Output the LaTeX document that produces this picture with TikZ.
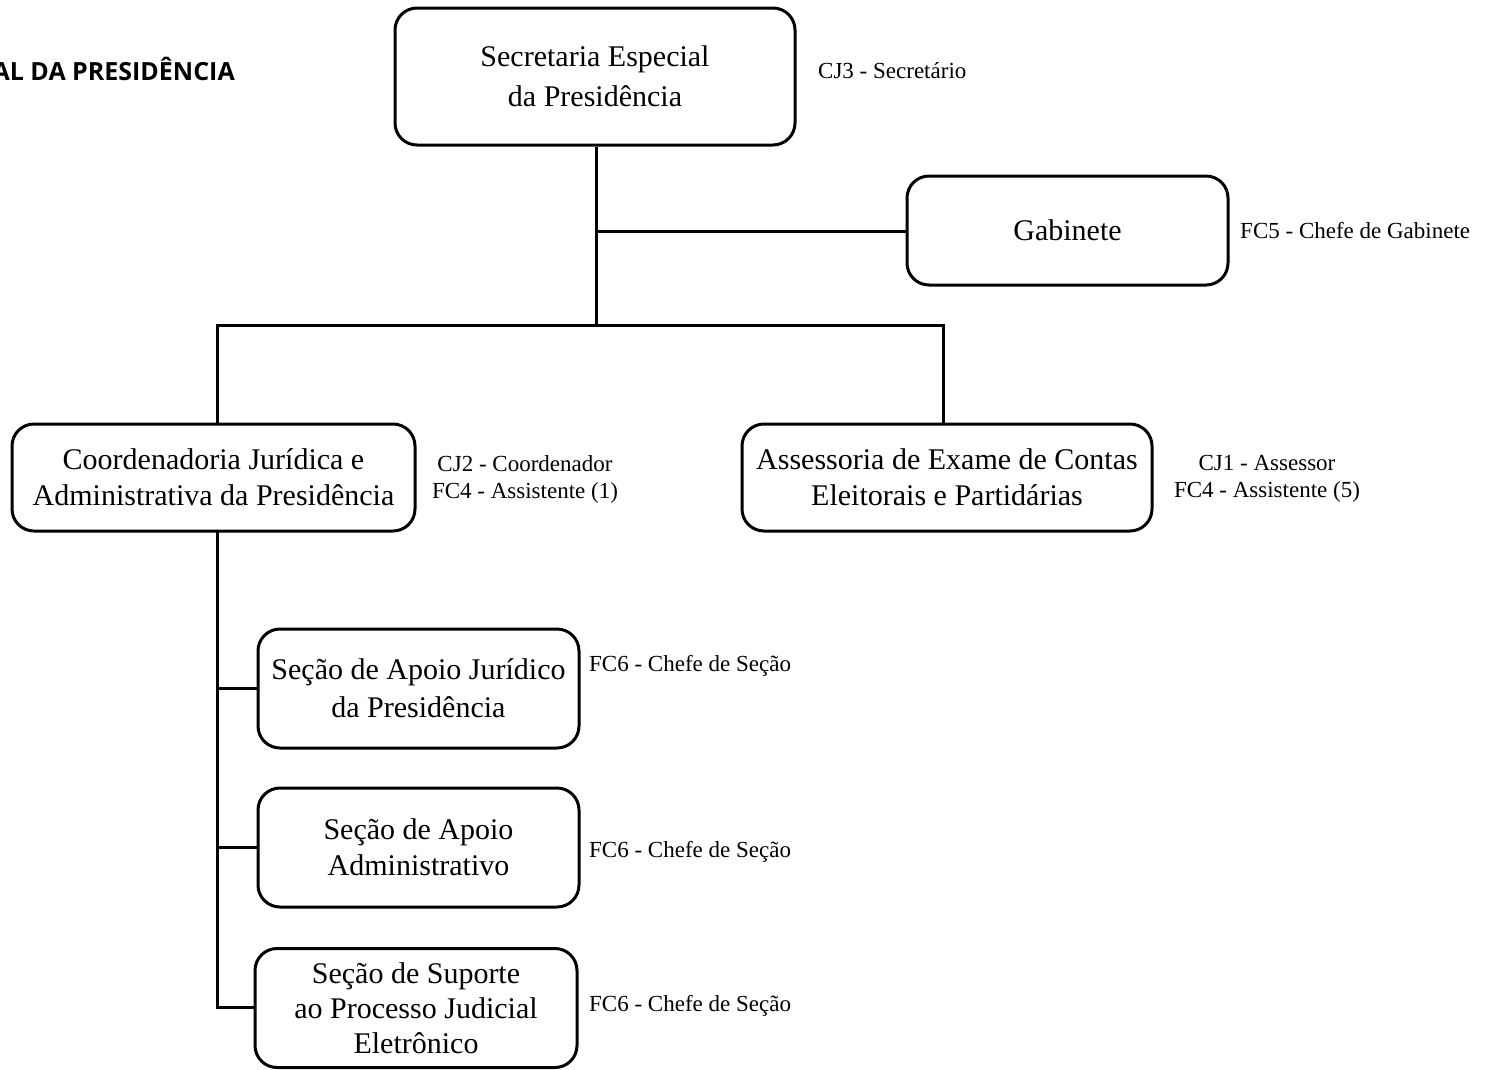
\documentclass[tikz,border=0pt]{standalone}
\usepackage{fontspec}
\setmainfont{Liberation Serif}
\newfontfamily\titlefont{Open Sans}
\begin{document}
\begin{tikzpicture}[x=1pt,y=-1pt,
  box/.style={draw, line width=3pt, rounded corners=22pt, align=center, inner sep=0pt,
    font=\fontsize{30}{38}\selectfont},
  lab/.style={align=center, inner sep=0pt, font=\fontsize{23}{27}\selectfont},
  conn/.style={line width=3pt}]
\useasboundingbox (0,0) rectangle (1491,1069);
\node[anchor=east, inner sep=0pt, font=\titlefont\bfseries\fontsize{25}{28}\selectfont] (title) at (235,69) {AL DA PRESIDÊNCIA};

\node[box, minimum width=400pt, minimum height=137pt, font=\fontsize{30}{40}\selectfont] (sec) at (595,76.5) {\raisebox{-3pt}{Secretaria Especial}\\\raisebox{-3pt}{da Presidência}};
\node[box, minimum width=321pt, minimum height=109pt] (gab) at (1067.5,230.5) {Gabinete};
\node[box, minimum width=403pt, minimum height=107pt, font=\fontsize{30}{36}\selectfont] (coord) at (213.5,477.5) {Coordenadoria Jurídica e\\Administrativa da Presidência};
\node[box, minimum width=410pt, minimum height=107pt, font=\fontsize{30}{36}\selectfont] (asse) at (947,477.5) {Assessoria de Exame de Contas\\Eleitorais e Partidárias};
\node[box, minimum width=321pt, minimum height=119pt] (s1) at (418.5,688.5) {Seção de Apoio Jurídico\\da Presidência};
\node[box, minimum width=321pt, minimum height=119pt, font=\fontsize{30}{36}\selectfont] (s2) at (418.5,847.5) {Seção de Apoio\\Administrativo};
\node[box, minimum width=322pt, minimum height=119pt, font=\fontsize{30}{35}\selectfont] (s3) at (416,1008) {Seção de Suporte\\ao Processo Judicial\\Eletrônico};

\node[lab, anchor=west] (lsec) at (818,71) {CJ3 - Secretário};
\node[lab, anchor=west] (lgab) at (1240,231) {FC5 - Chefe de Gabinete};
\node[lab] (lcoord) at (525,479) {CJ2 - Coordenador\\FC4 - Assistente (1)};
\node[lab] (lasse) at (1267,479) {CJ1 - Assessor\\FC4 - Assistente (5)};
\node[lab, anchor=west] (ls1) at (589,666) {FC6 - Chefe de Seção};
\node[lab, anchor=west] (ls2) at (589,852) {FC6 - Chefe de Seção};
\node[lab, anchor=west] (ls3) at (589,1006) {FC6 - Chefe de Seção};

\coordinate (g) at (596,231);
\coordinate (j) at (596,325);
\coordinate (cl) at (217,325);
\coordinate (cr) at (943,325);
\coordinate (b1) at (217,688);
\coordinate (b2) at (217,847);
\coordinate (b3) at (217,1007);

\draw[conn] (sec.south -| j) -- (j);
\draw[conn] (g) -- (gab.west |- g);
\draw[conn, line cap=rect] (cl) -- (cr);
\draw[conn] (cl) -- (coord.north -| cl);
\draw[conn] (cr) -- (asse.north -| cr);
\draw[conn, line cap=rect] (coord.south -| b1) -- (b3);
\draw[conn] (b1) -- (s1.west |- b1);
\draw[conn] (b2) -- (s2.west |- b2);
\draw[conn] (b3) -- (s3.west |- b3);
\end{tikzpicture}
\end{document}
